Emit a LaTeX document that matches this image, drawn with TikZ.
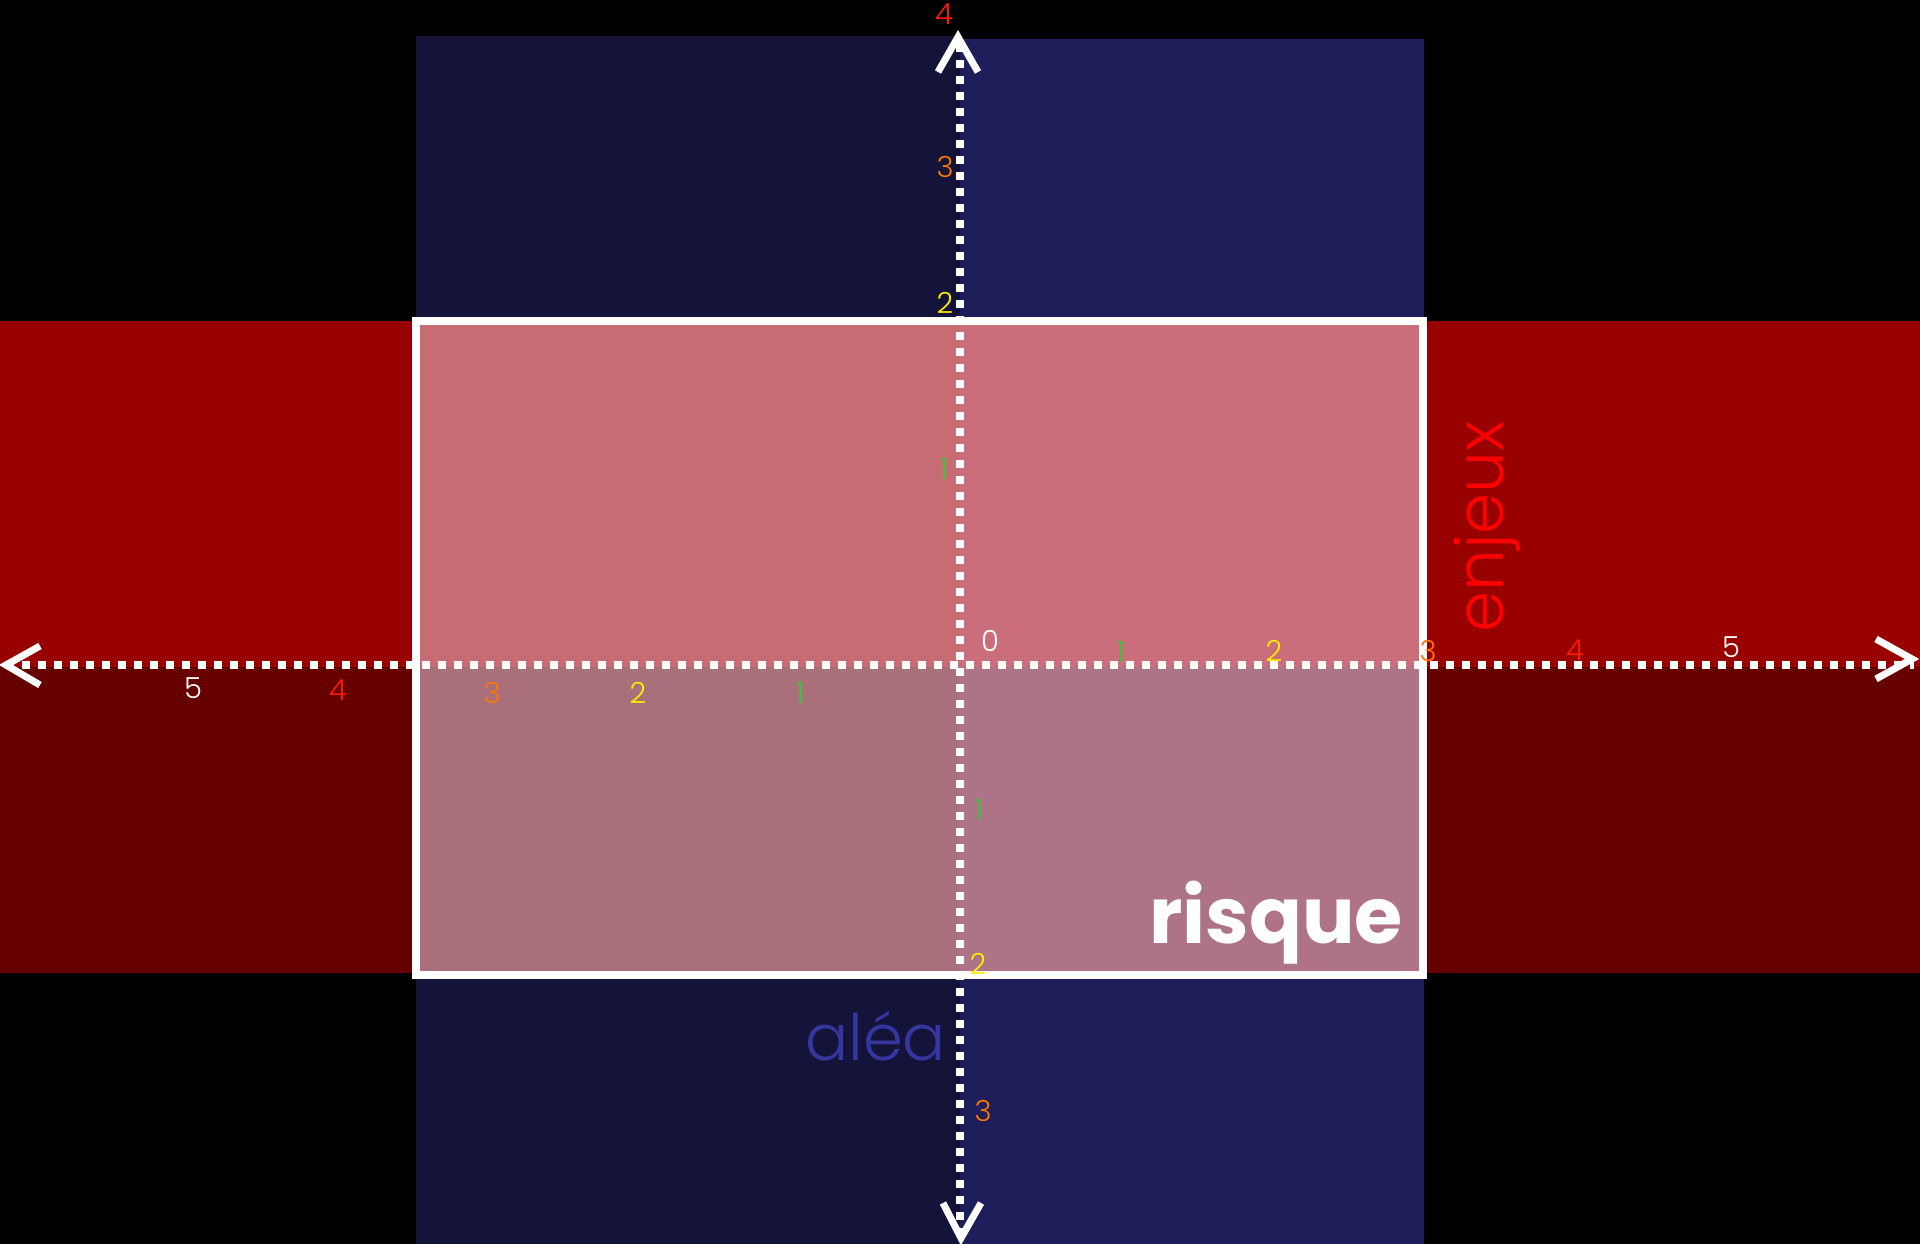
\documentclass[tikz,border=0pt]{standalone}
\usepackage{fontspec}
\setmainfont{Poppins}
\newfontfamily\poplight{Poppins Light}
\definecolor{blueL}{HTML}{14143A}
\definecolor{blueR}{HTML}{1E1E5A}
\definecolor{redT}{HTML}{990000}
\definecolor{redB}{HTML}{660000}
\definecolor{pinkTL}{HTML}{C86C74}
\definecolor{pinkTR}{HTML}{CB6E7B}
\definecolor{pinkBL}{HTML}{A9707B}
\definecolor{pinkBR}{HTML}{AE7387}
\definecolor{aleablue}{HTML}{3636A0}
\definecolor{tgreen}{HTML}{33CC33}
\definecolor{tyellow}{HTML}{FFEE00}
\definecolor{torange}{HTML}{FF7700}
\definecolor{tred}{HTML}{FF1A00}
\begin{document}
\begin{tikzpicture}[x=1pt,y=-1pt,
  axisline/.style={white, line width=8pt, dash pattern=on 8pt off 8pt},
  chev/.style={white, line width=7pt, line join=miter},
  tick/.style={font=\poplight\fontsize{29}{30}\selectfont, inner sep=0pt},
]
\fill[black] (0,0) rectangle (1920,1244);
\useasboundingbox (0,0) rectangle (1920,1244);
% blue vertical band
\fill[blueL] (416,36) rectangle (960,1244);
\fill[blueR] (960,39) rectangle (1424,1244);
% red horizontal band
\fill[redT] (0,321) rectangle (1920,667);
\fill[redB] (0,667) rectangle (1920,973);
% risk rectangle
\fill[pinkTL] (416,321) rectangle (960,667);
\fill[pinkTR] (960,321) rectangle (1423,667);
\fill[pinkBL] (416,667) rectangle (960,975);
\fill[pinkBR] (960,667) rectangle (1423,975);
\draw[white, line width=8pt] (416,321) rectangle (1423,975);
% axes
\coordinate (vtop) at (960,44);
\coordinate (vbot) at (960,1244);
\coordinate (hleft) at (6,665);
\coordinate (hright) at (1914,665);
\draw[axisline] (vtop) -- (vbot);
\draw[axisline] (hleft) -- (hright);
% arrow chevrons
\draw[chev] (938,72) -- (958,37) -- (978,72);
\draw[chev] (943,1203) -- (961,1238) -- (981,1203);
\draw[chev] (40,646) -- (6,665) -- (40,685);
\draw[chev] (1876,639) -- (1912,659) -- (1876,679);
% tick labels, horizontal positive
\node[tick, text=white]   (h0) at (990,641) {0};
\node[tick, text=tgreen]  (h1) at (1121,652) {1};
\node[tick, text=tyellow] (h2) at (1274,651) {2};
\node[tick, text=torange] (h3) at (1428,651) {3};
\node[tick, text=tred]    (h4) at (1575,650) {4};
\node[tick, text=white]   (h5) at (1731,647) {5};
% horizontal negative
\node[tick, text=tgreen]  (hm1) at (800,693) {1};
\node[tick, text=tyellow] (hm2) at (638,693) {2};
\node[tick, text=torange] (hm3) at (492,693) {3};
\node[tick, text=tred]    (hm4) at (338,690) {4};
\node[tick, text=white]   (hm5) at (193,688) {5};
% vertical positive
\node[tick, text=tred]    (v4) at (944,14) {4};
\node[tick, text=torange] (v3) at (945,167) {3};
\node[tick, text=tyellow] (v2) at (945,303) {2};
\node[tick, text=tgreen]  (v1) at (944,469) {1};
% vertical negative
\node[tick, text=tgreen]  (vm1) at (979,810) {1};
\node[tick, text=tyellow] (vm2) at (978,964) {2};
\node[tick, text=torange] (vm3) at (983,1111) {3};
% titles
\node[anchor=base west, inner sep=0pt, text=aleablue, font=\poplight\fontsize{64}{70}\selectfont] (alea) at (805,1060) {aléa};
\node[anchor=base west, inner sep=0pt, rotate=90, text=red, font=\poplight\fontsize{66}{72}\selectfont] (enjeux) at (1503,633) {enjeux};
\node[anchor=base east, inner sep=0pt, text=white, font=\bfseries\fontsize{78}{84}\selectfont] (risque) at (1403,943) {risque};
\end{tikzpicture}
\end{document}
